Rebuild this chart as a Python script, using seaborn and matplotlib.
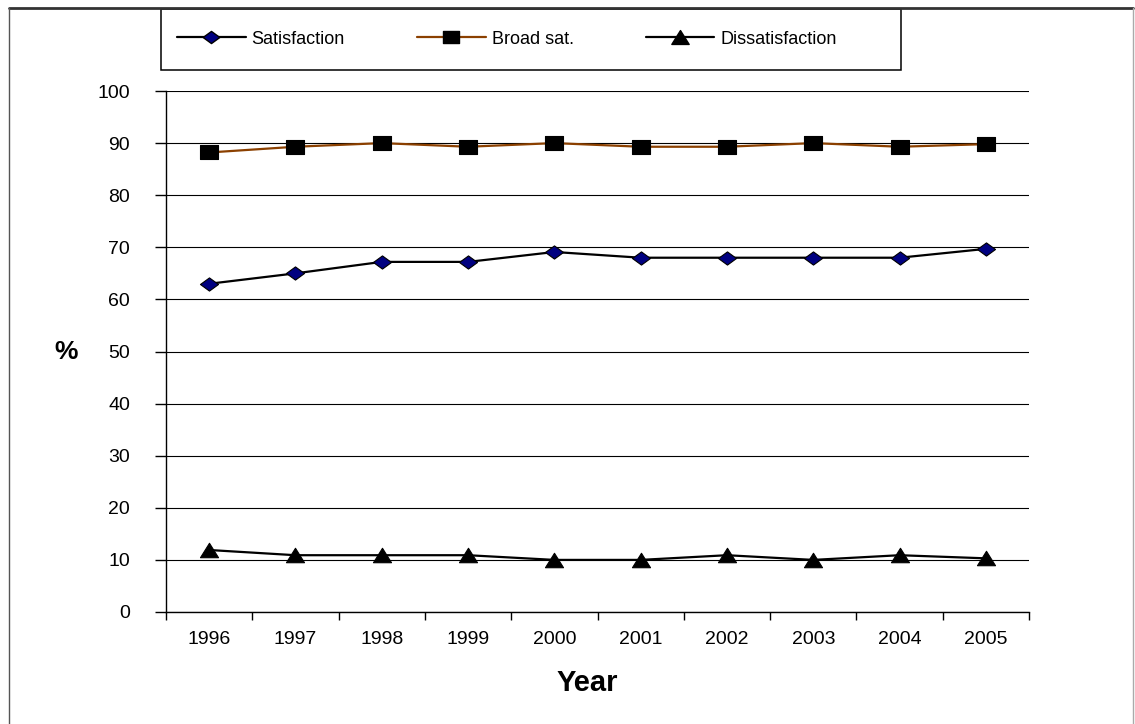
import matplotlib
matplotlib.use("Agg")
import matplotlib.pyplot as plt
from matplotlib.patches import Rectangle
from matplotlib.lines import Line2D
from matplotlib.path import Path
import seaborn as sns
import pandas as pd

# Survey results by year (%)
years = ["1996", "1997", "1998", "1999", "2000", "2001", "2002", "2003", "2004", "2005"]
satisfaction = [63, 65, 67.2, 67.2, 69.1, 68, 68, 68, 68, 69.7]
broad_sat = [88.2, 89.3, 90, 89.3, 90, 89.3, 89.3, 90, 89.3, 89.8]
dissatisfaction = [11.9, 10.9, 10.9, 10.9, 10, 10, 10.9, 10, 10.9, 10.3]
series_names = ["Satisfaction", "Broad sat.", "Dissatisfaction"]

sns.set_theme(style="white")
plt.rcParams["font.family"] = ["Liberation Sans", "DejaVu Sans"]
plt.rcParams["text.color"] = "black"

W, H = 1135, 724
fig = plt.figure(figsize=(W / 100, H / 100), dpi=100)
fig.patch.set_facecolor("white")


def fx(px):
    return px / W


def fy(py):
    return 1 - py / H


ax = fig.add_axes([fx(166), fy(612), fx(1029) - fx(166), fy(91) - fy(612)])

# slightly wide markers, as in the spreadsheet-style chart
diamond = Path([(-1, 0), (0, 0.73), (1, 0), (0, -0.73), (-1, 0)],
               [Path.MOVETO, Path.LINETO, Path.LINETO, Path.LINETO, Path.CLOSEPOLY])
square = Path([(-1, -0.76), (1, -0.76), (1, 0.76), (-1, 0.76), (-1, -0.76)],
              [Path.MOVETO, Path.LINETO, Path.LINETO, Path.LINETO, Path.CLOSEPOLY])
triangle = Path([(-1, -0.8), (1, -0.8), (0, 0.8), (-1, -0.8)],
                [Path.MOVETO, Path.LINETO, Path.LINETO, Path.CLOSEPOLY])

pos = list(range(len(years)))
styles = [
    (satisfaction, "black", diamond, "#000080", 13),
    (broad_sat, "#8B4000", square, "black", 13),
    (dissatisfaction, "black", triangle, "black", 13),
]
for name, (vals, lc, mk, fc, ms) in zip(series_names, styles):
    df = pd.DataFrame({"pos": pos, "value": vals})
    sns.lineplot(data=df, x="pos", y="value", ax=ax, color=lc, lw=1.6,
                 marker=mk, markersize=ms, markerfacecolor=fc,
                 markeredgecolor="black", markeredgewidth=0.8,
                 label=name, legend=False, zorder=3)

ax.set_xlim(-0.5, len(years) - 0.5)
ax.set_ylim(0, 100)
ax.set_yticks(range(0, 101, 10))
ax.set_xticks(pos)
ax.set_xticklabels(years)
ax.set_xticks([p - 0.5 for p in pos] + [len(years) - 0.5], minor=True)
ax.tick_params(axis="x", which="major", length=0, pad=14, labelsize=14, colors="black")
ax.tick_params(axis="x", which="minor", length=6, width=1, color="black", direction="out", bottom=True)
ax.tick_params(axis="y", length=8, width=1, color="black", direction="out", left=True,
               pad=18, labelsize=14, labelcolor="black")
ax.set_xlabel("")
ax.set_ylabel("")
ax.yaxis.grid(True, color="black", lw=0.8)
ax.set_axisbelow(True)
for s in ["top", "right"]:
    ax.spines[s].set_visible(False)
for s in ["left", "bottom"]:
    ax.spines[s].set_color("black")
    ax.spines[s].set_linewidth(1)

fig.text(fx(587), fy(683), "Year", ha="center", va="center",
         fontsize=21, fontweight="bold", color="black")
fig.text(fx(66.5), fy(352), "%", ha="center", va="center",
         fontsize=19, fontweight="bold", color="black")

# legend box across the top
fig.add_artist(Rectangle((fx(161), fy(70)), fx(901) - fx(161), fy(9) - fy(70),
                         transform=fig.transFigure, facecolor="white",
                         edgecolor="black", lw=1.1, zorder=1))
handles = [
    Line2D([], [], color="black", lw=1.6, marker=diamond, markersize=12,
           markerfacecolor="#000080", markeredgecolor="black"),
    Line2D([], [], color="#8B4000", lw=1.6, marker=square, markersize=12,
           markerfacecolor="black", markeredgecolor="black"),
    Line2D([], [], color="black", lw=1.6, marker=triangle, markersize=12.5,
           markerfacecolor="black", markeredgecolor="black"),
]
leg = fig.legend(handles, series_names, loc="center left",
                 bbox_to_anchor=(fx(177), fy(39)), ncol=3, frameon=False,
                 fontsize=13, handlelength=3.8, handletextpad=0.33,
                 columnspacing=4.0, borderpad=0, borderaxespad=0)
leg.set_zorder(2)
for t in leg.get_texts():
    t.set_color("black")

# outer frame (left, top, right)
fig.add_artist(Line2D([fx(9), fx(1133)], [fy(8), fy(8)], transform=fig.transFigure,
                      color="#333333", lw=2))
fig.add_artist(Line2D([fx(9), fx(9)], [fy(8), 0], transform=fig.transFigure,
                      color="#555555", lw=1))
fig.add_artist(Line2D([fx(1133), fx(1133)], [fy(8), 0], transform=fig.transFigure,
                      color="#aaaaaa", lw=1))

fig.savefig("out.png", dpi=100)
